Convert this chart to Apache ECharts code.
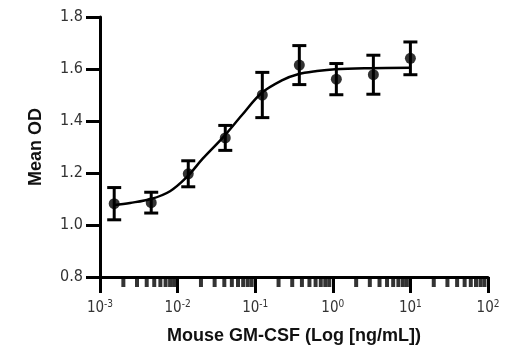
<!DOCTYPE html>
<html><head><meta charset="utf-8">
<script src="https://cdn.jsdelivr.net/npm/echarts@6/dist/echarts.min.js"></script>
<style>html,body{margin:0;padding:0;background:#fff}#c{width:520px;height:350px}</style>
</head><body><div id="c"></div>
<script>
// Measured points (concentration ng/mL, mean OD, error)
const concentrations = [0.001524, 0.004572, 0.01372, 0.04115, 0.1235, 0.3704, 1.111, 3.333, 10];
const meanOD = [1.082, 1.086, 1.197, 1.335, 1.500, 1.615, 1.561, 1.578, 1.641];
const errOD = [0.062, 0.040, 0.050, 0.048, 0.087, 0.075, 0.060, 0.075, 0.063];
// Fitted curve
const curveX = [0.00151, 0.00244, 0.00454, 0.00798, 0.0132, 0.0212, 0.0385, 0.0676, 0.119, 0.228, 0.356, 0.625, 1.07, 3.01, 10];
const curveY = [1.077, 1.085, 1.100, 1.130, 1.185, 1.256, 1.337, 1.423, 1.506, 1.558, 1.580, 1.592, 1.599, 1.603, 1.605];
// Axis ticks
const yTicks = [0.8, 1.0, 1.2, 1.4, 1.6, 1.8];
const xMinorTicks = [0.002,0.003,0.004,0.005,0.006,0.007,0.008,0.009,
  0.02,0.03,0.04,0.05,0.06,0.07,0.08,0.09,
  0.2,0.3,0.4,0.5,0.6,0.7,0.8,0.9,
  2,3,4,5,6,7,8,9,
  20,30,40,50,60,70,80,90];
const xTitle = 'Mouse GM-CSF (Log [ng/mL])';
const yTitle = 'Mean OD';

const FONT = '"DejaVu Sans Condensed", "Liberation Sans", sans-serif';
const TFONT = '"Liberation Sans", sans-serif';
const chart = echarts.init(document.getElementById('c'), null, {renderer: 'canvas'});
const pts = concentrations.map((c, i) => [c, meanOD[i]]);
const errData = concentrations.map((c, i) => [c, meanOD[i] - errOD[i], meanOD[i] + errOD[i]]);
const curve = curveX.map((x, i) => [x, curveY[i]]);

chart.setOption({
  animation: false,
  grid: {left: 100, right: 32, top: 17, bottom: 73},
  xAxis: {
    type: 'log', logBase: 10, min: 0.001, max: 100,
    name: xTitle, nameLocation: 'middle', nameGap: 50,
    nameTextStyle: {fontFamily: TFONT, fontWeight: 'bold', fontSize: 18, color: '#111'},
    axisLine: {onZero: false, lineStyle: {color: '#000', width: 3}},
    axisTick: {show: true, length: 16, lineStyle: {color: '#000', width: 3}},
    splitLine: {show: false},
    axisLabel: {
      margin: 22, color: '#333',
      formatter: v => '{b|10}{s|' + Math.round(Math.log10(v)) + '}',
      rich: {
        b: {fontFamily: FONT, fontSize: 15, color: '#333'},
        s: {fontFamily: FONT, fontSize: 10, color: '#333', verticalAlign: 'top', padding: [0, 0, 8, 0]}
      }
    }
  },
  yAxis: {
    type: 'value', min: 0.8, max: 1.8, interval: 0.2,
    name: yTitle, nameLocation: 'middle', nameGap: 55, nameRotate: 90,
    nameTextStyle: {fontFamily: TFONT, fontWeight: 'bold', fontSize: 18, color: '#111'},
    axisLine: {show: true, lineStyle: {color: '#000', width: 3}},
    axisTick: {show: true, length: 14, lineStyle: {color: '#000', width: 3}},
    splitLine: {show: false},
    axisLabel: {margin: 17, fontFamily: FONT, fontSize: 16, color: '#333', formatter: v => v.toFixed(1)}
  },
  series: [
    {
      type: 'scatter', silent: true, clip: false, z: 1,
      data: xMinorTicks.map(x => [x, yTicks[0]]),
      symbol: 'rect', symbolSize: [4, 10], symbolOffset: [0, 5],
      itemStyle: {color: '#000'}
    },
    {
      type: 'line', data: curve, smooth: 0.35, showSymbol: false, silent: true,
      lineStyle: {color: '#000', width: 2.5}, z: 2
    },
    {
      type: 'custom', data: errData, z: 3, silent: true,
      renderItem: (params, api) => {
        const x = api.value(0);
        const lo = api.coord([x, api.value(1)]);
        const hi = api.coord([x, api.value(2)]);
        const cw = 7;
        const st = {stroke: '#000', lineWidth: 3};
        return {type: 'group', children: [
          {type: 'line', shape: {x1: lo[0], y1: lo[1], x2: hi[0], y2: hi[1]}, style: st},
          {type: 'line', shape: {x1: lo[0]-cw, y1: lo[1], x2: lo[0]+cw, y2: lo[1]}, style: st},
          {type: 'line', shape: {x1: hi[0]-cw, y1: hi[1], x2: hi[0]+cw, y2: hi[1]}, style: st}
        ]};
      }
    },
    {
      type: 'scatter', data: pts, symbol: 'circle', symbolSize: 11, z: 4,
      itemStyle: {color: '#000'}
    }
  ]
});
</script></body></html>
